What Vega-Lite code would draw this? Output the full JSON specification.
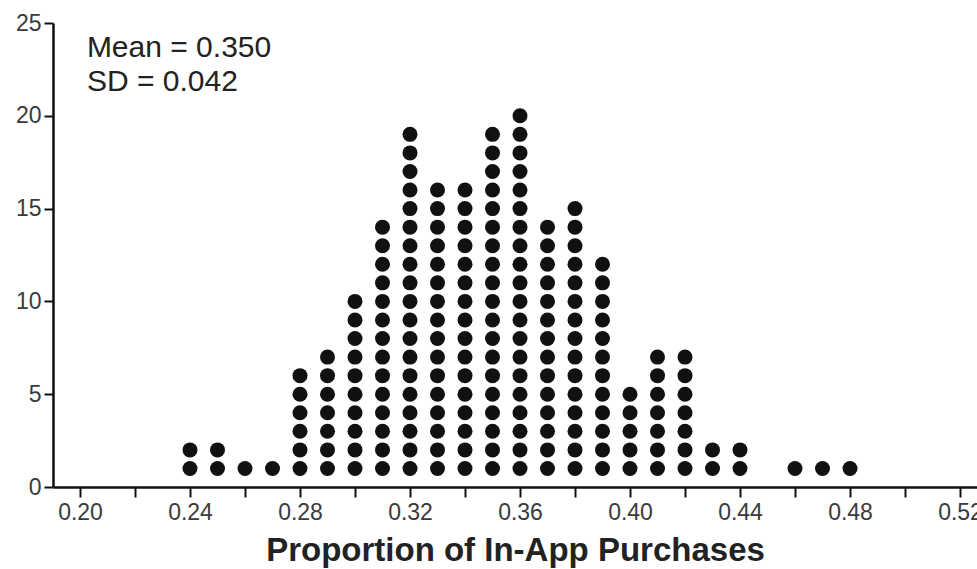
{
  "$schema": "https://vega.github.io/schema/vega-lite/v6.json",
  "width": 924,
  "height": 464,
  "autosize": {"type": "none"},
  "padding": {"left": 53, "top": 23, "right": 0, "bottom": 82},
  "background": "white",
  "config": {"view": {"stroke": null}, "font": "Liberation Sans"},
  "datasets": {
    "dots": [
      {"p":0.24,"n":1},{"p":0.24,"n":2},
      {"p":0.25,"n":1},{"p":0.25,"n":2},
      {"p":0.26,"n":1},
      {"p":0.27,"n":1},
      {"p":0.28,"n":1},{"p":0.28,"n":2},{"p":0.28,"n":3},{"p":0.28,"n":4},{"p":0.28,"n":5},{"p":0.28,"n":6},
      {"p":0.29,"n":1},{"p":0.29,"n":2},{"p":0.29,"n":3},{"p":0.29,"n":4},{"p":0.29,"n":5},{"p":0.29,"n":6},{"p":0.29,"n":7},
      {"p":0.30,"n":1},{"p":0.30,"n":2},{"p":0.30,"n":3},{"p":0.30,"n":4},{"p":0.30,"n":5},{"p":0.30,"n":6},{"p":0.30,"n":7},{"p":0.30,"n":8},{"p":0.30,"n":9},{"p":0.30,"n":10},
      {"p":0.31,"n":1},{"p":0.31,"n":2},{"p":0.31,"n":3},{"p":0.31,"n":4},{"p":0.31,"n":5},{"p":0.31,"n":6},{"p":0.31,"n":7},{"p":0.31,"n":8},{"p":0.31,"n":9},{"p":0.31,"n":10},{"p":0.31,"n":11},{"p":0.31,"n":12},{"p":0.31,"n":13},{"p":0.31,"n":14},
      {"p":0.32,"n":1},{"p":0.32,"n":2},{"p":0.32,"n":3},{"p":0.32,"n":4},{"p":0.32,"n":5},{"p":0.32,"n":6},{"p":0.32,"n":7},{"p":0.32,"n":8},{"p":0.32,"n":9},{"p":0.32,"n":10},{"p":0.32,"n":11},{"p":0.32,"n":12},{"p":0.32,"n":13},{"p":0.32,"n":14},{"p":0.32,"n":15},{"p":0.32,"n":16},{"p":0.32,"n":17},{"p":0.32,"n":18},{"p":0.32,"n":19},
      {"p":0.33,"n":1},{"p":0.33,"n":2},{"p":0.33,"n":3},{"p":0.33,"n":4},{"p":0.33,"n":5},{"p":0.33,"n":6},{"p":0.33,"n":7},{"p":0.33,"n":8},{"p":0.33,"n":9},{"p":0.33,"n":10},{"p":0.33,"n":11},{"p":0.33,"n":12},{"p":0.33,"n":13},{"p":0.33,"n":14},{"p":0.33,"n":15},{"p":0.33,"n":16},
      {"p":0.34,"n":1},{"p":0.34,"n":2},{"p":0.34,"n":3},{"p":0.34,"n":4},{"p":0.34,"n":5},{"p":0.34,"n":6},{"p":0.34,"n":7},{"p":0.34,"n":8},{"p":0.34,"n":9},{"p":0.34,"n":10},{"p":0.34,"n":11},{"p":0.34,"n":12},{"p":0.34,"n":13},{"p":0.34,"n":14},{"p":0.34,"n":15},{"p":0.34,"n":16},
      {"p":0.35,"n":1},{"p":0.35,"n":2},{"p":0.35,"n":3},{"p":0.35,"n":4},{"p":0.35,"n":5},{"p":0.35,"n":6},{"p":0.35,"n":7},{"p":0.35,"n":8},{"p":0.35,"n":9},{"p":0.35,"n":10},{"p":0.35,"n":11},{"p":0.35,"n":12},{"p":0.35,"n":13},{"p":0.35,"n":14},{"p":0.35,"n":15},{"p":0.35,"n":16},{"p":0.35,"n":17},{"p":0.35,"n":18},{"p":0.35,"n":19},
      {"p":0.36,"n":1},{"p":0.36,"n":2},{"p":0.36,"n":3},{"p":0.36,"n":4},{"p":0.36,"n":5},{"p":0.36,"n":6},{"p":0.36,"n":7},{"p":0.36,"n":8},{"p":0.36,"n":9},{"p":0.36,"n":10},{"p":0.36,"n":11},{"p":0.36,"n":12},{"p":0.36,"n":13},{"p":0.36,"n":14},{"p":0.36,"n":15},{"p":0.36,"n":16},{"p":0.36,"n":17},{"p":0.36,"n":18},{"p":0.36,"n":19},{"p":0.36,"n":20},
      {"p":0.37,"n":1},{"p":0.37,"n":2},{"p":0.37,"n":3},{"p":0.37,"n":4},{"p":0.37,"n":5},{"p":0.37,"n":6},{"p":0.37,"n":7},{"p":0.37,"n":8},{"p":0.37,"n":9},{"p":0.37,"n":10},{"p":0.37,"n":11},{"p":0.37,"n":12},{"p":0.37,"n":13},{"p":0.37,"n":14},
      {"p":0.38,"n":1},{"p":0.38,"n":2},{"p":0.38,"n":3},{"p":0.38,"n":4},{"p":0.38,"n":5},{"p":0.38,"n":6},{"p":0.38,"n":7},{"p":0.38,"n":8},{"p":0.38,"n":9},{"p":0.38,"n":10},{"p":0.38,"n":11},{"p":0.38,"n":12},{"p":0.38,"n":13},{"p":0.38,"n":14},{"p":0.38,"n":15},
      {"p":0.39,"n":1},{"p":0.39,"n":2},{"p":0.39,"n":3},{"p":0.39,"n":4},{"p":0.39,"n":5},{"p":0.39,"n":6},{"p":0.39,"n":7},{"p":0.39,"n":8},{"p":0.39,"n":9},{"p":0.39,"n":10},{"p":0.39,"n":11},{"p":0.39,"n":12},
      {"p":0.40,"n":1},{"p":0.40,"n":2},{"p":0.40,"n":3},{"p":0.40,"n":4},{"p":0.40,"n":5},
      {"p":0.41,"n":1},{"p":0.41,"n":2},{"p":0.41,"n":3},{"p":0.41,"n":4},{"p":0.41,"n":5},{"p":0.41,"n":6},{"p":0.41,"n":7},
      {"p":0.42,"n":1},{"p":0.42,"n":2},{"p":0.42,"n":3},{"p":0.42,"n":4},{"p":0.42,"n":5},{"p":0.42,"n":6},{"p":0.42,"n":7},
      {"p":0.43,"n":1},{"p":0.43,"n":2},
      {"p":0.44,"n":1},{"p":0.44,"n":2},
      {"p":0.46,"n":1},
      {"p":0.47,"n":1},
      {"p":0.48,"n":1}
    ],
    "notes": [
      {"label": "Mean = 0.350", "x": 0.2025, "y": 23.17},
      {"label": "SD = 0.042", "x": 0.2025, "y": 21.34}
    ]
  },
  "layer": [
    {
      "data": {"name": "dots"},
      "mark": {"type": "circle", "size": 225, "color": "#111", "opacity": 1},
      "encoding": {
        "x": {
          "field": "p", "type": "quantitative",
          "scale": {"domain": [0.19018, 0.52618], "nice": false, "zero": false},
          "axis": {
            "title": "Proportion of In-App Purchases",
            "titleFontSize": 33, "titleFontWeight": "bold", "titleColor": "#222",
            "titlePadding": 10,
            "values": [0.20,0.21,0.22,0.23,0.24,0.25,0.26,0.27,0.28,0.29,0.30,0.31,0.32,0.33,0.34,0.35,0.36,0.37,0.38,0.39,0.40,0.41,0.42,0.43,0.44,0.45,0.46,0.47,0.48,0.49,0.50,0.51,0.52],
            "labelExpr": "round(datum.value*100) % 4 == 0 ? format(datum.value, '.2f') : ''",
            "labelFontSize": 23, "labelColor": "#3a3a3a", "labelPadding": 4,
            "labelFlush": false, "labelOverlap": false,
            "grid": false, "tickSize": 10, "tickWidth": 2, "tickColor": "#111",
            "domainColor": "#111", "domainWidth": 2.5
          }
        },
        "y": {
          "field": "n", "type": "quantitative",
          "scale": {"domain": [0, 25], "nice": false},
          "axis": {
            "title": null,
            "values": [0, 5, 10, 15, 20, 25],
            "labelFontSize": 23, "labelColor": "#3a3a3a", "labelPadding": 3,
            "grid": false, "tickSize": 9, "tickWidth": 2, "tickColor": "#111",
            "domainColor": "#111", "domainWidth": 2.5
          }
        }
      }
    },
    {
      "data": {"name": "notes"},
      "mark": {"type": "text", "align": "left", "baseline": "alphabetic", "fontSize": 30, "color": "#222"},
      "encoding": {
        "x": {"field": "x", "type": "quantitative"},
        "y": {"field": "y", "type": "quantitative"},
        "text": {"field": "label"}
      }
    }
  ]
}
